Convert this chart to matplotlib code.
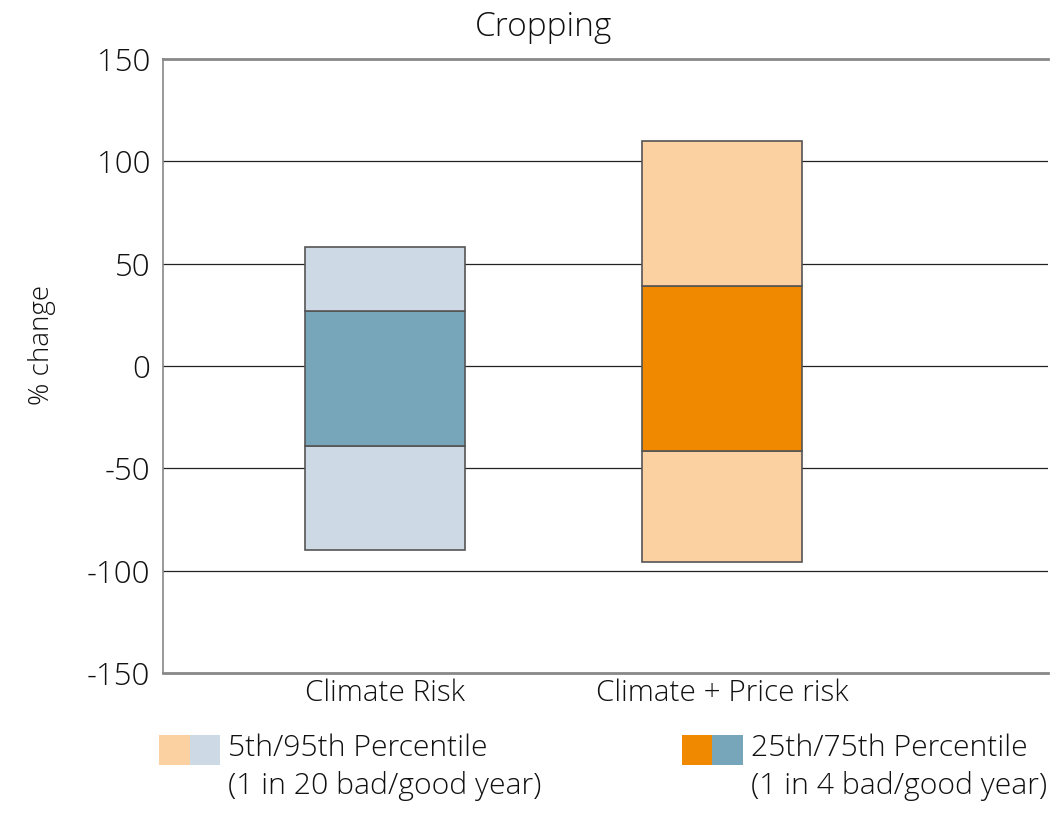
import matplotlib
matplotlib.use("Agg")
import matplotlib.pyplot as plt
from matplotlib.patches import Rectangle

plt.rcParams['font.family'] = ['Open Sans', 'DejaVu Sans']
plt.rcParams['font.weight'] = 'light'

categories = ["Climate Risk", "Climate + Price risk"]
p5 = [-90, -96]
p25 = [-39, -41.5]
p75 = [27, 39]
p95 = [58, 110]
outer_colors = ["#CDD9E5", "#FBD1A2"]
inner_colors = ["#77A5BA", "#F08800"]
yticks = [-150, -100, -50, 0, 50, 100, 150]

fig = plt.figure(figsize=(10.63, 8.13), dpi=100)
ax = fig.add_axes([163/1063, 1-673/813, (1048-163)/1063, (673-59)/813])

x = list(range(len(categories)))
w = 0.475
ec = "#555555"
for i in x:
    ax.bar(i, p25[i]-p5[i], bottom=p5[i], width=w, color=outer_colors[i], edgecolor=ec, linewidth=1.2, zorder=3)
    ax.bar(i, p75[i]-p25[i], bottom=p25[i], width=w, color=inner_colors[i], edgecolor=ec, linewidth=1.2, zorder=3)
    ax.bar(i, p95[i]-p75[i], bottom=p75[i], width=w, color=outer_colors[i], edgecolor=ec, linewidth=1.2, zorder=3)

ax.set_xlim(-0.659, 1.967)
ax.set_ylim(-150, 150)
ax.set_yticks(yticks)
ax.set_yticklabels([str(t) for t in yticks])
ax.set_xticks(x)
ax.set_xticklabels(categories)
ax.tick_params(axis='both', length=0, colors='#111111')
ax.tick_params(axis='y', pad=9, labelsize=22.5)
ax.tick_params(axis='x', pad=4, labelsize=21.3)
for t in yticks[1:-1]:
    ax.axhline(t, color='#222222', linewidth=0.9, zorder=1)
ax.spines['right'].set_visible(False)
for s in ['top', 'bottom']:
    ax.spines[s].set_color('#888888')
    ax.spines[s].set_linewidth(2)
ax.spines['left'].set_color('#888888')
ax.spines['left'].set_linewidth(1.2)

fig.text(42/1063, 1-345/813, "% change", rotation=90, ha='center', va='center', fontsize=20, color='#111111')
fig.text(544/1063, 1-27/813, "Cropping", ha='center', va='center', fontsize=24, color='#111111')

# legend
H = 813
def rect(x0, y0, x1, y1, c):
    fig.add_artist(Rectangle((x0/1063, 1-y1/H), (x1-x0)/1063, (y1-y0)/H, transform=fig.transFigure, facecolor=c, edgecolor='none'))

rect(159, 735, 190, 765, outer_colors[1])
rect(190, 735, 220, 765, outer_colors[0])
rect(682, 735, 712, 765, inner_colors[1])
rect(712, 735, 743, 765, inner_colors[0])
fs = 21.7
fig.text(228/1063, 1-748/H, "5th/95th Percentile", ha='left', va='center', fontsize=fs, color='#111111')
fig.text(228/1063, 1-786/H, "(1 in 20 bad/good year)", ha='left', va='center', fontsize=fs, color='#111111')
fig.text(751/1063, 1-748/H, "25th/75th Percentile", ha='left', va='center', fontsize=fs, color='#111111')
fig.text(751/1063, 1-786/H, "(1 in 4 bad/good year)", ha='left', va='center', fontsize=fs, color='#111111')

fig.savefig("out.png", dpi=100)
